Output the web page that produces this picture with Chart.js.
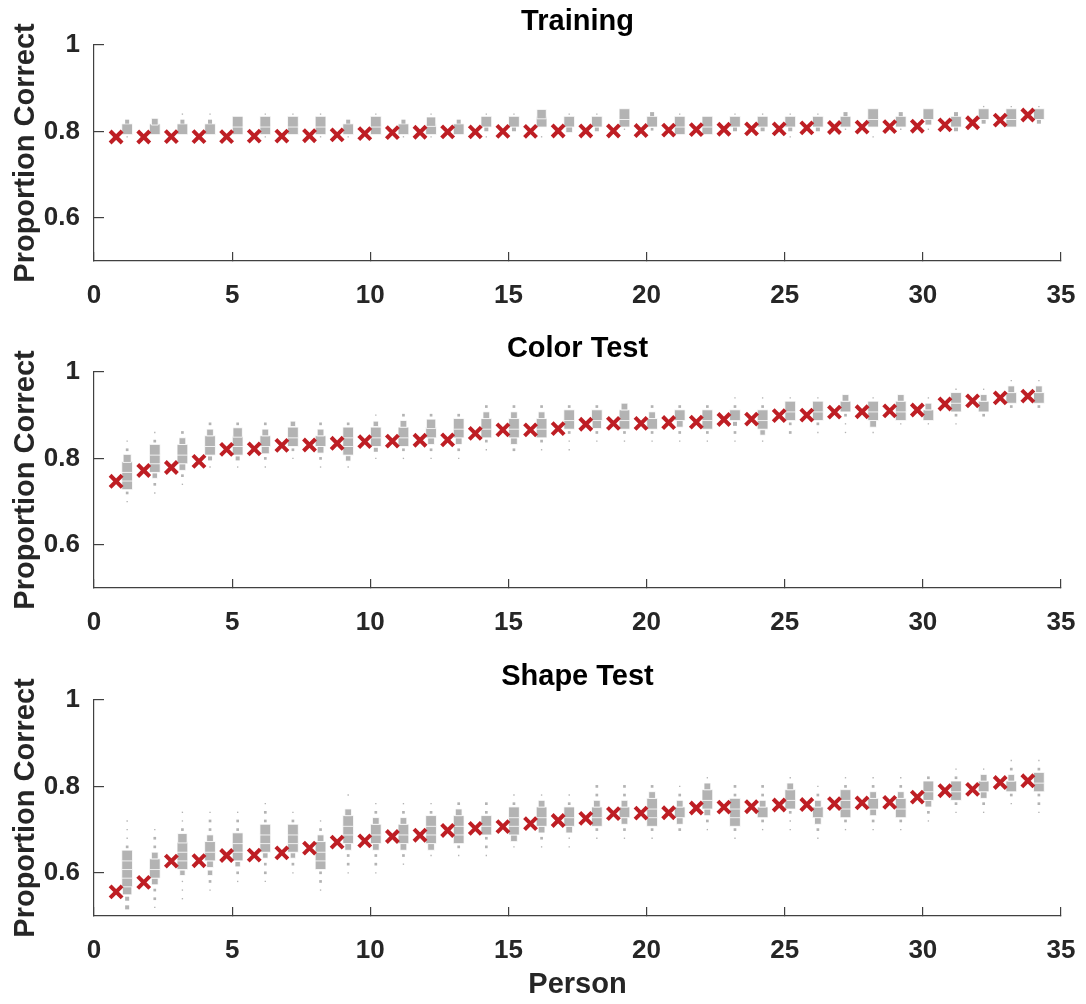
<!DOCTYPE html>
<html>
<head>
<meta charset="utf-8">
<script src="https://cdn.jsdelivr.net/npm/chart.js@4"></script>
<style>
  body { margin: 0; background: #fff; }
  .panel { position: absolute; left: 0; width: 1086px; }
</style>
</head>
<body>
<div class="panel" style="top:0;height:327px"><canvas id="trainChart"></canvas></div>
<div class="panel" style="top:327px;height:328px"><canvas id="colorChart"></canvas></div>
<div class="panel" style="top:655px;height:349px"><canvas id="shapeChart"></canvas></div>
<script>
const persons = [1, 2, 3, 4, 5, 6, 7, 8, 9, 10, 11, 12, 13, 14, 15, 16, 17,
  18, 19, 20, 21, 22, 23, 24, 25, 26, 27, 28, 29, 30, 31, 32, 33, 34];
const xTicksStep = 5;
const yTicks = [0.6, 0.8, 1];

// observed proportion correct per person
const trainMean = [0.787, 0.787, 0.788, 0.788, 0.788, 0.789, 0.789, 0.790, 0.792, 0.795,
  0.797, 0.798, 0.799, 0.799, 0.800, 0.800, 0.801, 0.801, 0.801, 0.802, 0.803, 0.804,
  0.805, 0.806, 0.806, 0.808, 0.809, 0.810, 0.811, 0.812, 0.815, 0.820, 0.826, 0.838];
const colorMean = [0.747, 0.772, 0.779, 0.793, 0.821, 0.822, 0.830, 0.831, 0.835, 0.839,
  0.840, 0.842, 0.843, 0.858, 0.866, 0.866, 0.869, 0.879, 0.881, 0.881, 0.883, 0.884,
  0.890, 0.891, 0.899, 0.900, 0.907, 0.908, 0.910, 0.912, 0.926, 0.933, 0.940, 0.944];
const shapeMean = [0.556, 0.578, 0.627, 0.628, 0.640, 0.641, 0.646, 0.657, 0.671, 0.674,
  0.684, 0.687, 0.698, 0.703, 0.707, 0.714, 0.721, 0.726, 0.737, 0.738, 0.739, 0.750,
  0.752, 0.753, 0.757, 0.758, 0.760, 0.762, 0.763, 0.775, 0.790, 0.793, 0.809, 0.813];

// simulated distributions: lowest bin per person, bin width, counts per bin (low -> high)
const trainStep = 0.0175;
const trainLow = [0.7875, 0.7875, 0.7875, 0.7875, 0.7875, 0.7875, 0.7875, 0.7875, 0.7875,
  0.7875, 0.7875, 0.7875, 0.7875, 0.7875, 0.7875, 0.7875, 0.7875, 0.7875, 0.7875, 0.7875,
  0.7875, 0.7875, 0.7875, 0.7875, 0.7875, 0.7875, 0.7875, 0.7875, 0.7875, 0.7875, 0.7875,
  0.7875, 0.7875, 0.7875];
const trainCounts = [
  [1, 8, 3, 0], [0, 8, 5, 0], [0, 8, 3, 1], [0, 8, 3, 1], [0, 8, 8, 0], [1, 8, 8, 1],
  [0, 8, 8, 1], [1, 8, 8, 1], [1, 8, 3, 0], [0, 8, 8, 1], [1, 8, 3, 0], [1, 8, 7, 1],
  [0, 8, 3, 0], [1, 3, 8, 1], [0, 3, 8, 1], [1, 0, 8, 7], [0, 5, 8, 1], [0, 3, 8, 1],
  [0, 1, 8, 8], [0, 2, 8, 3], [0, 8, 8, 1], [0, 8, 8, 0], [0, 3, 8, 1], [0, 3, 8, 1],
  [1, 3, 8, 1], [0, 3, 8, 1], [0, 1, 8, 3], [1, 0, 8, 8], [0, 1, 8, 3], [0, 1, 5, 8],
  [0, 3, 8, 3], [0, 0, 3, 8, 1], [0, 0, 8, 8, 1], [0, 0, 3, 8, 1]
];

const colorStep = 0.02;
const colorLow = [0.70, 0.72, 0.74, 0.78, 0.78, 0.78, 0.80, 0.78, 0.78, 0.80,
  0.80, 0.80, 0.80, 0.82, 0.82, 0.82, 0.82, 0.84, 0.84, 0.84, 0.84, 0.84,
  0.84, 0.84, 0.86, 0.86, 0.86, 0.86, 0.88, 0.88, 0.88, 0.90, 0.92, 0.92];
const colorCounts = [
  [1, 2, 8, 8, 8, 6, 2, 1], [1, 2, 4, 8, 8, 8, 2, 1], [1, 2, 5, 8, 8, 5, 2],
  [1, 3, 8, 8, 5, 2], [1, 3, 8, 8, 7, 2], [1, 2, 6, 8, 5, 2], [1, 2, 8, 8, 4],
  [1, 2, 5, 8, 5, 2], [1, 4, 8, 8, 8, 2], [1, 3, 8, 8, 4, 1], [1, 2, 8, 8, 5, 2],
  [1, 2, 5, 8, 7, 2], [1, 2, 5, 8, 8, 2], [1, 2, 8, 8, 5, 2], [2, 5, 8, 8, 5, 2],
  [1, 2, 8, 8, 5, 2], [1, 1, 2, 8, 8, 2], [1, 2, 7, 8, 2], [1, 2, 8, 8, 5],
  [1, 2, 8, 5, 2], [1, 2, 5, 8, 2], [1, 2, 8, 8, 2], [1, 2, 3, 8, 2, 1],
  [1, 4, 8, 8, 2, 1], [2, 2, 8, 8, 1], [1, 2, 8, 8, 1], [1, 1, 2, 8, 5],
  [1, 5, 8, 8, 1], [1, 8, 8, 5], [1, 8, 5, 1], [1, 2, 8, 8, 1], [2, 8, 5, 1],
  [2, 8, 5, 1], [2, 8, 5, 1]
];

const shapeStep = 0.02;
const shapeLow = [0.52, 0.52, 0.54, 0.56, 0.58, 0.58, 0.60, 0.56, 0.60, 0.60,
  0.62, 0.64, 0.64, 0.64, 0.66, 0.66, 0.66, 0.68, 0.68, 0.68, 0.70, 0.70,
  0.68, 0.70, 0.70, 0.68, 0.70, 0.70, 0.70, 0.72, 0.74, 0.74, 0.76, 0.74];
const shapeCounts = [
  [3, 3, 7, 8, 8, 8, 8, 2, 1, 1, 1], [1, 2, 2, 5, 8, 8, 5, 2, 2, 1],
  [1, 1, 1, 4, 8, 8, 8, 7, 2, 1, 1], [1, 2, 4, 5, 8, 8, 5, 2, 2, 1],
  [1, 2, 4, 8, 8, 8, 2, 2, 1], [1, 2, 2, 4, 8, 8, 8, 2, 2, 1],
  [1, 2, 4, 8, 8, 8, 2, 1], [1, 2, 2, 8, 8, 8, 5, 2, 1],
  [1, 2, 2, 5, 8, 8, 8, 5, 0, 1], [1, 2, 2, 5, 8, 8, 5, 2, 1],
  [1, 2, 5, 8, 8, 5, 2, 1], [1, 5, 8, 8, 8, 2, 1], [1, 2, 8, 8, 8, 5, 2],
  [1, 2, 2, 8, 8, 2, 2], [1, 5, 8, 8, 8, 2, 1], [1, 2, 5, 8, 8, 5, 1],
  [1, 1, 5, 8, 8, 2, 1], [1, 2, 8, 8, 5, 2, 2], [1, 2, 5, 8, 5, 2, 2],
  [1, 2, 8, 8, 8, 5, 2], [2, 5, 8, 5, 2, 1], [1, 2, 5, 8, 8, 5, 1],
  [1, 2, 8, 8, 8, 2, 2], [1, 2, 8, 5, 2, 2], [1, 1, 2, 8, 8, 5, 1],
  [1, 2, 5, 8, 5, 2, 1], [1, 2, 8, 8, 8, 2, 1], [1, 2, 5, 8, 5, 2, 1],
  [1, 2, 8, 8, 5, 2, 1], [1, 2, 5, 8, 8, 2], [1, 2, 8, 8, 2, 1],
  [1, 2, 5, 8, 5, 1], [1, 2, 8, 5, 2, 1], [1, 2, 2, 8, 8, 2, 1]
];

const FONT = '"Liberation Sans", Arial, Helvetica, sans-serif';
const RED = '#be1e24';
const GREY = '#b3b3b3';
const AXIS = '#404040';

function binPoints(low, counts, step) {
  const pts = [];
  persons.forEach(function(p, i) {
    counts[i].forEach(function(n, k) {
      if (n > 0) pts.push({ x: p + 0.2, y: low[i] + k * step, n: n });
    });
  });
  return pts;
}

function makePanel(id, title, mean, bins, xTitle, xHeight) {
  return new Chart(document.getElementById(id), {
    type: 'scatter',
    data: {
      datasets: [
        {
          data: persons.map(function(p, i) { return { x: p - 0.2, y: mean[i] }; }),
          pointStyle: 'crossRot',
          pointRadius: 8.5,
          borderWidth: 4,
          borderColor: RED,
          backgroundColor: RED,
          order: 0
        },
        {
          data: bins,
          pointStyle: 'rect',
          pointRadius: function(ctx) { return ctx.raw ? Math.min(7.6, 0.95 * ctx.raw.n) : 3; },
          borderWidth: function(ctx) { return ctx.raw && ctx.raw.n >= 4 ? 0.8 : 0; },
          borderColor: '#ffffff',
          backgroundColor: GREY,
          order: 1
        }
      ]
    },
    options: {
      responsive: true,
      maintainAspectRatio: false,
      animation: false,
      events: [],
      layout: { padding: { left: 0, right: 25, top: 0, bottom: 0 } },
      plugins: {
        legend: { display: false },
        tooltip: { enabled: false },
        title: {
          display: true,
          fullSize: false,
          text: title,
          color: '#000',
          font: { family: FONT, size: 29, weight: 'bold' },
          padding: { top: 5, bottom: 5.2 }
        }
      },
      scales: {
        x: {
          type: 'linear',
          min: 0,
          max: 35,
          border: { color: AXIS, width: 1.2 },
          grid: { drawOnChartArea: false, drawTicks: true, tickLength: -9, color: AXIS, lineWidth: 1.2 },
          ticks: {
            stepSize: xTicksStep,
            padding: 28,
            maxRotation: 0,
            color: '#262626',
            font: { family: FONT, size: 26, weight: 'bold' }
          },
          title: {
            display: !!xTitle,
            text: xTitle || '',
            color: '#262626',
            font: { family: FONT, size: 29, weight: 'bold' },
            padding: { top: 0, bottom: 2 }
          },
          afterFit: function(scale) {
            scale.height = xHeight;
            scale.paddingLeft = 0;
            scale.paddingRight = 0;
          }
        },
        y: {
          type: 'linear',
          min: 0.5,
          max: 1,
          afterBuildTicks: function(scale) {
            scale.ticks = yTicks.map(function(v) { return { value: v }; });
          },
          border: { color: AXIS, width: 1.2 },
          grid: { drawOnChartArea: false, drawTicks: true, tickLength: -10, color: AXIS, lineWidth: 1.2 },
          ticks: {
            padding: 24,
            color: '#262626',
            font: { family: FONT, size: 26, weight: 'bold' },
            callback: function(v) { return String(v); }
          },
          title: {
            display: true,
            text: 'Proportion Correct',
            color: '#262626',
            font: { family: FONT, size: 29, weight: 'bold' },
            padding: { top: 9, bottom: 0 }
          },
          afterFit: function(scale) {
            scale.width = 94;
            scale.paddingTop = 0;
            scale.paddingBottom = 0;
          }
        }
      }
    }
  });
}

makePanel('trainChart', 'Training', trainMean, binPoints(trainLow, trainCounts, trainStep), null, 66);
makePanel('colorChart', 'Color Test', colorMean, binPoints(colorLow, colorCounts, colorStep), null, 67);
makePanel('shapeChart', 'Shape Test', shapeMean, binPoints(shapeLow, shapeCounts, shapeStep), 'Person', 88);
</script>
</body>
</html>
